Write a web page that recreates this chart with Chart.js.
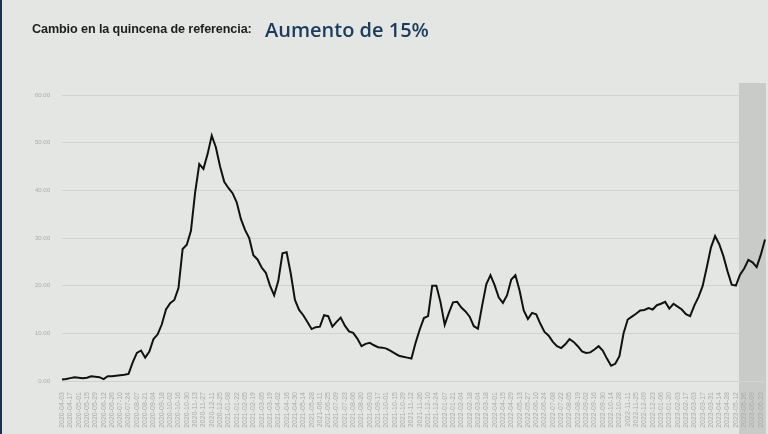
<!DOCTYPE html>
<html>
<head>
<meta charset="utf-8">
<script src="https://cdn.jsdelivr.net/npm/chart.js@4"></script>
<style>
    body { margin: 0; background: #e4e6e3; }
    #wrap { position: relative; width: 768px; height: 434px; overflow: hidden; background: #e4e6e3; }
    #edge { position: absolute; left: 0; top: 0; width: 2px; height: 434px; background: #1c2f55; }
    #lbl { position: absolute; left: 32px; top: 22px; font: bold 12.6px "Liberation Sans", Arial, sans-serif; color: #1e1e1e; letter-spacing: -0.1px; }
    #big { position: absolute; left: 265px; top: 16px; font: 600 20px "Open Sans", sans-serif; color: #1b3b5c; }
    canvas { position: absolute; left: 0; top: 0; }
</style>
</head>
<body>
<div id="wrap">
    <canvas id="graph_canvas" width="768" height="434"></canvas>
    <div id="edge"></div>
    <div id="lbl">Cambio en la quincena de referencia:</div>
    <div id="big">Aumento de 15%</div>
</div>
<script>
// weekly dates, first one shown on the axis
const START_DATE = '2020-04-03';
const Y_TICKS = [0, 10, 20, 30, 40, 50, 60];
const HIGHLIGHT_FROM = 163;   // index where the grey band begins

// values, one per week
const VALUES = [
    0.3, 0.4, 0.6, 0.8, 0.7, 0.6, 0.7, 1.0, 0.9, 0.8,
    0.4, 1.0, 1.0, 1.1, 1.2, 1.3, 1.5, 3.9, 5.9, 6.4,
    4.9, 6.2, 8.8, 9.8, 11.9, 15.0, 16.3, 17.0, 19.5, 27.7,
    28.6, 31.5, 39.5, 45.5, 44.5, 47.6, 51.5, 49.0, 45.0, 41.8,
    40.5, 39.4, 37.5, 34.0, 31.7, 30.0, 26.4, 25.5, 23.8, 22.7,
    20.0, 18.0, 21.0, 26.8, 27.0, 22.5, 17.0, 14.9, 13.8, 12.4,
    10.9, 11.3, 11.4, 13.8, 13.6, 11.4, 12.4, 13.3, 11.6, 10.4,
    10.1, 8.9, 7.3, 7.8, 8.0, 7.5, 7.1, 7.0, 6.8, 6.3,
    5.8, 5.3, 5.1, 4.9, 4.7, 8.0, 10.8, 13.2, 13.6, 20.0,
    20.0, 16.5, 11.8, 14.3, 16.5, 16.6, 15.4, 14.6, 13.5, 11.5,
    11.0, 15.8, 20.3, 22.2, 20.1, 17.5, 16.4, 18.0, 21.3, 22.2,
    19.0, 14.8, 13.0, 14.3, 14.0, 12.0, 10.3, 9.5, 8.2, 7.3,
    6.9, 7.7, 8.8, 8.2, 7.3, 6.2, 5.9, 6.0, 6.6, 7.3,
    6.4, 4.7, 3.2, 3.6, 5.2, 10.0, 12.9, 13.5, 14.1, 14.8,
    14.9, 15.3, 15.0, 15.9, 16.2, 16.6, 15.2, 16.2, 15.6, 15.0,
    14.0, 13.6, 15.8, 17.6, 19.9, 23.8, 28.0, 30.4, 28.7, 26.2,
    23.0, 20.2, 20.0, 22.3, 23.6, 25.4, 24.9, 23.9, 26.5, 29.7
];

function buildLabels(n) {
    var labels = [];
    var d = new Date(START_DATE + 'T00:00:00Z');
    for (var i = 0; i < n; i++) {
        labels.push(d.toISOString().slice(0, 10));
        d.setUTCDate(d.getUTCDate() + 7);
    }
    return labels;
}

// grey band over the last weeks: label part behind the ticks, plot part over the grid
function bandX(chart) {
    return chart.scales.x.getPixelForValue(HIGHLIGHT_FROM) - 1;
}
const bandPlugin = {
    id: 'band',
    beforeDraw(chart) {
        const ctx = chart.ctx, a = chart.chartArea;
        const x = bandX(chart);
        ctx.save();
        ctx.fillStyle = '#c9cbc8';
        ctx.fillRect(x, a.bottom, chart.width - 2 - x, chart.height - a.bottom);
        ctx.restore();
    },
    beforeDatasetsDraw(chart) {
        const ctx = chart.ctx, a = chart.chartArea;
        const x = bandX(chart);
        ctx.save();
        ctx.fillStyle = '#c9cbc8';
        ctx.fillRect(x, a.top - 12, chart.width - 2 - x, a.bottom - a.top + 12);
        ctx.restore();
    }
};

var graph = new Chart(document.getElementById('graph_canvas'), {
    type: 'line',
    data: {
        labels: buildLabels(VALUES.length),
        datasets: [{
            data: VALUES,
            borderColor: '#111',
            borderWidth: 2,
            pointRadius: 0,
            tension: 0,
            fill: false
        }]
    },
    options: {
        responsive: false,
        animation: false,
        layout: { padding: { top: 95, right: 3, left: 0, bottom: 0 } },
        plugins: { legend: { display: false }, tooltip: { enabled: false } },
        scales: {
            x: {
                grid: { display: false },
                border: { display: false },
                afterFit: s => { s.height = 53; s.paddingLeft = 0; s.paddingRight = 0; },
                ticks: {
                    autoSkip: false,
                    maxRotation: 90,
                    minRotation: 90,
                    padding: 3,
                    color: '#a9aba8',
                    font: { size: 7 },
                    callback: function (val, i) {
                        return i % 2 === 0 ? this.getLabelForValue(val) : '';
                    }
                }
            },
            y: {
                min: Y_TICKS[0],
                max: Y_TICKS[Y_TICKS.length - 1],
                afterFit: s => { s.width = 62; },
                afterBuildTicks: s => { s.ticks = Y_TICKS.map(v => ({ value: v })); },
                border: { display: false },
                grid: { color: '#d1d3d0', lineWidth: 1, drawTicks: false },
                ticks: {
                    padding: 12,
                    color: '#a9aba8',
                    font: { size: 6 },
                    callback: v => v.toFixed(2)
                }
            }
        }
    },
    plugins: [bandPlugin]
});
</script>
</body>
</html>
